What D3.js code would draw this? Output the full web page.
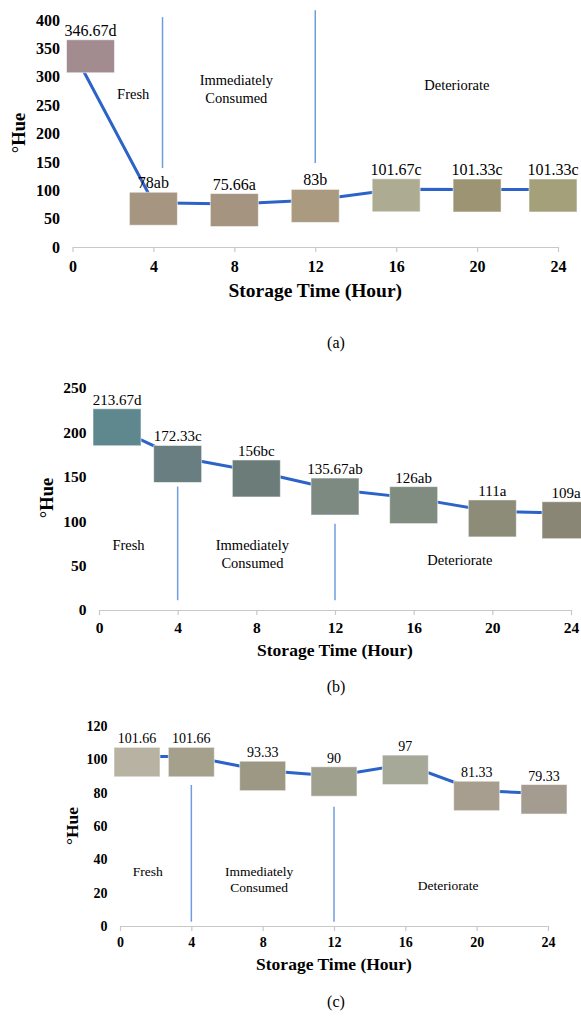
<!DOCTYPE html>
<html>
<head>
<meta charset="utf-8">
<script src="https://cdn.jsdelivr.net/npm/d3@7/dist/d3.min.js"></script>
<style>
  html, body { margin: 0; padding: 0; background: #fff; }
  svg { display: block; }
  text { font-family: "Liberation Serif", "Times New Roman", serif; fill: #000; }
</style>
</head>
<body>
<svg id="fig" width="581" height="1017"></svg>
<script>
// Storage time (hours) shared by the three panels
const hours = [0, 4, 8, 12, 16, 20, 24];
const hourTicks = [0, 4, 8, 12, 16, 20, 24];

// (a) °Hue values, significance letters and measured sample colour
const hueA = [346.67, 78, 75.66, 83, 101.67, 101.33, 101.33];
const lettersA = ["d", "ab", "a", "b", "c", "c", "c"];
const swatchA = ["#a28c90", "#a69580", "#a49480", "#a99a80", "#adac92", "#9c9472", "#a4a07a"];
const hueTicksA = [0, 50, 100, 150, 200, 250, 300, 350, 400];

// (b)
const hueB = [213.67, 172.33, 156, 135.67, 126, 111, 109];
const lettersB = ["d", "c", "bc", "ab", "ab", "a", "a"];
const swatchB = ["#5f878e", "#687e80", "#6c7c78", "#7c8a82", "#808c80", "#8c8c78", "#8a8676"];
const hueTicksB = [0, 50, 100, 150, 200, 250];

// (c)
const hueC = [101.66, 101.66, 93.33, 90, 97, 81.33, 79.33];
const lettersC = ["", "", "", "", "", "", ""];
const swatchC = ["#b8b2a2", "#a4a08c", "#9c9884", "#a0a08e", "#a6a898", "#a89e90", "#a49c90"];
const hueTicksC = [0, 20, 40, 60, 80, 100, 120];

// Phase boundaries: [hour, top °Hue, bottom °Hue]
const dividersA = [[4.45, 405, 139], [12, 417, 148]];
const dividersB = [[4, 139, 11], [12, 97, 11]];
const dividersC = [[4, 84.6, 2.6], [12, 71.6, 2.6]];

// Phase names: [lines, hour, °Hue]
const phasesA = [[["Fresh"], 3.0, 270], [["Immediately", "Consumed"], 8.1, 278], [["Deteriorate"], 19.0, 285]];
const phasesB = [[["Fresh"], 1.5, 73], [["Immediately", "Consumed"], 7.8, 63], [["Deteriorate"], 18.35, 56]];
const phasesC = [[["Fresh"], 1.55, 32.6], [["Immediately", "Consumed"], 7.8, 28], [["Deteriorate"], 18.4, 24.6]];

const panels = [
  { values: hueA, letters: lettersA, swatch: swatchA, yTicks: hueTicksA, dividers: dividersA, phases: phasesA, caption: "(a)",
    layout: { x0: 72.5, x1: 558, yBottom: 247, yTop: 20, boxW: 48, boxH: 33, boxDy: 6, valFont: 16, tickFont: 16,
              xTickBase: 272, titleFont: 19.5, titleBase: 297, yTitleX: 19, yTitleY: 133, yTitleFont: 18.5,
              noteFont: 14.5, captionY: 348 } },
  { values: hueB, letters: lettersB, swatch: swatchB, yTicks: hueTicksB, dividers: dividersB, phases: phasesB, caption: "(b)",
    layout: { x0: 99, x1: 571, yBottom: 610, yTop: 388, boxW: 48, boxH: 37, boxDy: 7, valFont: 15, tickFont: 15.5,
              xTickBase: 633, titleFont: 17.5, titleBase: 656, yTitleX: 47, yTitleY: 498, yTitleFont: 18.5,
              noteFont: 14.5, captionY: 692 } },
  { values: hueC, letters: lettersC, swatch: swatchC, yTicks: hueTicksC, dividers: dividersC, phases: phasesC, caption: "(c)",
    layout: { x0: 120, x1: 548, yBottom: 926, yTop: 726, boxW: 46, boxH: 29.5, boxDy: 5.5, valFont: 14, tickFont: 14,
              xTickBase: 947, titleFont: 17.5, titleBase: 970, yTitleX: 72, yTitleY: 826, yTitleFont: 17.5,
              noteFont: 13.5, captionY: 1007 } }
];

const svg = d3.select("#fig");
svg.append("rect").attr("width", 581).attr("height", 1017).attr("fill", "#fff");

panels.forEach(p => {
  const L = p.layout;
  const yMax = d3.max(p.yTicks);
  const x = d3.scaleLinear().domain([0, 24]).range([L.x0, L.x1]);
  const y = d3.scaleLinear().domain([0, yMax]).range([L.yBottom, L.yTop]);
  const g = svg.append("g");

  // x axis: light grey baseline with small downward ticks
  const xAxis = g.append("g")
    .attr("transform", `translate(0,${L.yBottom})`)
    .call(d3.axisBottom(x).tickValues(hourTicks).tickSizeInner(5).tickSizeOuter(0).tickPadding(0).tickFormat(d3.format("d")));
  xAxis.select(".domain").attr("stroke", "#c8c8c8").attr("stroke-width", 1.2);
  xAxis.selectAll(".tick line").attr("stroke", "#c8c8c8").attr("stroke-width", 1.2);
  xAxis.selectAll(".tick text")
    .attr("y", L.xTickBase - L.yBottom).attr("dy", 0)
    .attr("font-family", "Liberation Serif").attr("font-weight", "bold")
    .attr("font-size", L.tickFont).attr("fill", "#000");

  // y axis: labels only
  const yAxis = g.append("g")
    .attr("transform", `translate(${L.x0},0)`)
    .call(d3.axisLeft(y).tickValues(p.yTicks).tickSize(0).tickPadding(12.5).tickFormat(d3.format("d")));
  yAxis.select(".domain").remove();
  yAxis.selectAll(".tick text")
    .attr("font-family", "Liberation Serif").attr("font-weight", "bold")
    .attr("font-size", L.tickFont).attr("fill", "#000");

  // axis titles
  g.append("text")
    .attr("x", (L.x0 + L.x1) / 2 + 0).attr("y", L.titleBase)
    .attr("text-anchor", "middle").attr("font-weight", "bold").attr("font-size", L.titleFont)
    .text("Storage Time (Hour)");
  g.append("text")
    .attr("transform", `translate(${L.yTitleX},${L.yTitleY}) rotate(-90)`)
    .attr("text-anchor", "middle").attr("dy", "0.35em")
    .attr("font-weight", "bold").attr("font-size", L.yTitleFont)
    .text("°Hue");

  // phase boundaries
  g.selectAll(".divider").data(p.dividers).join("line")
    .attr("x1", d => x(d[0])).attr("x2", d => x(d[0]))
    .attr("y1", d => y(d[1])).attr("y2", d => y(d[2]))
    .attr("stroke", "#6f9de0").attr("stroke-width", 1.5);

  // phase names
  p.phases.forEach(([lines, h, v]) => {
    const lh = L.noteFont * 1.22;
    const t = g.append("text")
      .attr("text-anchor", "middle").attr("font-size", L.noteFont);
    lines.forEach((s, i) => {
      t.append("tspan")
        .attr("x", x(h))
        .attr("y", y(v) + (i - (lines.length - 1) / 2) * lh)
        .attr("dy", "0.35em")
        .text(s);
    });
  });

  // hue trend line
  const pts = hours.map((h, i) => [h, p.values[i]]);
  g.append("path")
    .datum(pts)
    .attr("d", d3.line().x(d => x(d[0])).y(d => y(d[1])))
    .attr("fill", "none").attr("stroke", "#2b63c8").attr("stroke-width", 3);

  // colour swatches and value labels
  const cx = h => Math.min(Math.max(x(h), x(0) - 6 + L.boxW / 2), x(24) + 19 - L.boxW / 2);
  const node = g.selectAll(".swatch").data(pts).join("g");
  node.append("rect")
    .attr("x", d => cx(d[0]) - L.boxW / 2)
    .attr("y", d => y(d[1]) + L.boxDy - L.boxH / 2)
    .attr("width", L.boxW).attr("height", L.boxH)
    .attr("fill", (d, i) => p.swatch[i])
    .attr("stroke", "rgba(255,255,255,0.55)").attr("stroke-width", 1);
  node.append("text")
    .attr("x", d => cx(d[0]))
    .attr("y", d => y(d[1]) + L.boxDy - L.boxH / 2 - 4)
    .attr("text-anchor", "middle").attr("font-size", L.valFont)
    .text((d, i) => String(d[1]) + p.letters[i]);

  // panel caption
  svg.append("text")
    .attr("x", 336).attr("y", L.captionY)
    .attr("text-anchor", "middle").attr("font-size", 16)
    .text(p.caption);
});
</script>
</body>
</html>
